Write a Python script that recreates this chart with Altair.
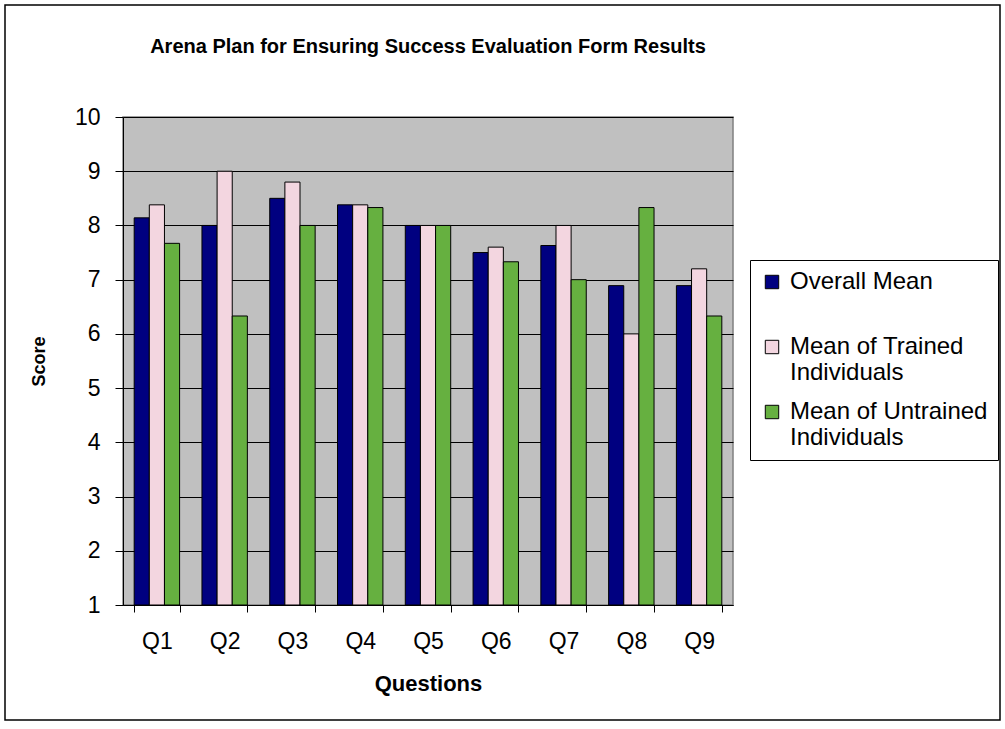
import altair as alt
import pandas as pd

questions = ["Q1", "Q2", "Q3", "Q4", "Q5", "Q6", "Q7", "Q8", "Q9"]
series = ["Overall Mean", "Mean of Trained Individuals", "Mean of Untrained Individuals"]
overall = [8.14, 8.0, 8.5, 8.38, 8.0, 7.5, 7.63, 6.89, 6.89]
trained = [8.38, 9.0, 8.8, 8.38, 8.0, 7.6, 8.0, 6.0, 7.2]
untrained = [7.67, 6.33, 8.0, 8.33, 8.0, 7.33, 7.0, 8.33, 6.33]
colors = ["#000080", "#F3D6E0", "#66B040"]

rows = []
for i, q in enumerate(questions):
    for s, vals in zip(series, [overall, trained, untrained]):
        rows.append({"question": q, "series": s, "score": vals[i]})
df = pd.DataFrame(rows)

FONT = "Liberation Sans"

border = alt.Chart(pd.DataFrame({"a": [0]})).mark_rect(
    fillOpacity=0, stroke="black", strokeWidth=1.5, clip=False
).encode(
    x=alt.value(-118), x2=alt.value(877), y=alt.value(-112), y2=alt.value(603)
)

label_expr = (
    "datum.label == 'Mean of Trained Individuals' ? ['Mean of Trained', 'Individuals'] : "
    "datum.label == 'Mean of Untrained Individuals' ? ['Mean of Untrained', 'Individuals'] : "
    "[datum.label, '']"
)

bars = alt.Chart(df).mark_bar(stroke="black", strokeWidth=1).encode(
    x=alt.X(
        "question:N", sort=questions,
        scale=alt.Scale(paddingInner=0.33, paddingOuter=0.165),
        axis=alt.Axis(
            title="Questions", labelAngle=0, tickBand="extent", tickSize=7,
            labelPadding=18, titlePadding=20, labelFontSize=23, titleFontSize=22,
            domainColor="black", tickColor="black", labelColor="black",
            titleColor="black", grid=False,
        ),
    ),
    xOffset=alt.XOffset("series:N", sort=series, scale=alt.Scale(paddingInner=0, paddingOuter=0)),
    y=alt.Y(
        "score:Q",
        scale=alt.Scale(domain=[1, 10], zero=False, nice=False),
        axis=alt.Axis(
            title="Score", values=list(range(1, 11)), tickSize=8, labelPadding=15,
            titlePadding=26, labelFontSize=23, titleFontSize=18,
            domainColor="black", tickColor="black", labelColor="black",
            titleColor="black", grid=True, gridColor="black", gridOpacity=1,
            gridWidth=1.2,
        ),
    ),
    y2=alt.Y2(datum=1),
    color=alt.Color(
        "series:N", sort=series,
        scale=alt.Scale(domain=series, range=colors),
        legend=alt.Legend(
            title=None, orient="none", legendX=627, legendY=143,
            strokeColor="black", padding=10, fillColor="white",
            labelFontSize=24, labelColor="black", labelExpr=label_expr,
            labelLimit=300, symbolType="square", symbolSize=180,
            symbolStrokeColor="black", symbolStrokeWidth=1, rowPadding=15,
            labelOffset=6, labelBaseline="middle",
        ),
    ),
)

chart = alt.layer(border, bars).properties(
    width=610, height=488,
    title=alt.TitleParams(
        "Arena Plan for Ensuring Success Evaluation Form Results",
        anchor="middle", fontSize=20, fontWeight="bold", color="black",
        offset=-53, font=FONT,
    ),
    autosize=alt.AutoSizeParams(type="none"),
    padding={"left": 123, "top": 117, "right": 272, "bottom": 124},
).configure(
    font=FONT, background="white",
).configure_view(
    fill="#C0C0C0", stroke="#808080", strokeWidth=1.5,
).configure_axis(
    labelFont=FONT, titleFont=FONT, titleFontWeight="bold",
).configure_legend(
    labelFont=FONT,
)

chart.save("out.html", embed_options={"renderer": "svg", "actions": False})
